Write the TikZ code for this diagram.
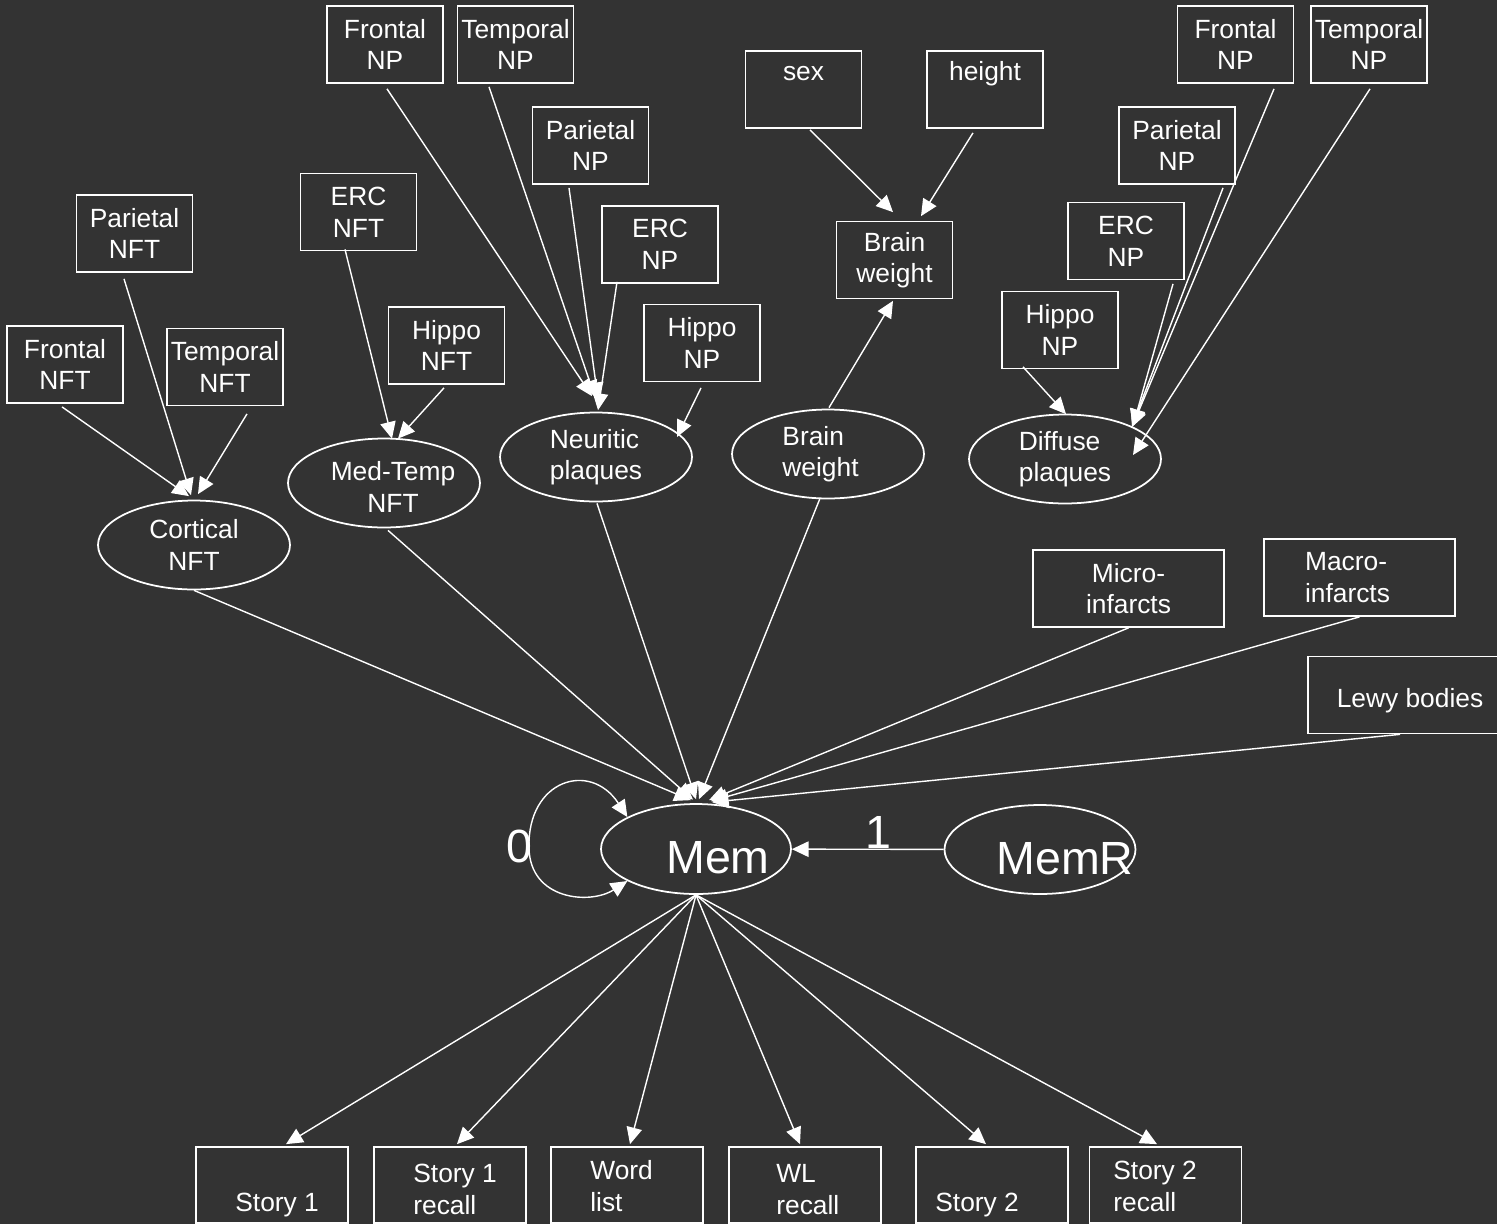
\documentclass[tikz,border=0pt]{standalone}
\usepackage{fontspec}
\setmainfont{Liberation Sans}
\usetikzlibrary{arrows.meta,shapes.geometric}
\definecolor{bg}{HTML}{333333}

\begin{document}
\begin{tikzpicture}[x=0.02cm,y=-0.02cm,
  every node/.style={text=white},
  lab/.style={font=\fontsize{15}{18}\selectfont, align=center},
  obs/.style={lab, draw=white, line width=1pt, rectangle,
    minimum width=2.32cm, minimum height=1.54cm, inner sep=0pt},
  wideobs/.style={obs, minimum width=3.82cm},
  ind/.style={draw=white, line width=1pt, rectangle,
    minimum width=3.04cm, minimum height=1.52cm, inner sep=0pt},
  btxt/.style={lab, anchor=north west, inner sep=0pt, align=left},
  lat/.style={lab, draw=white, line width=1pt, ellipse,
    minimum width=3.84cm, minimum height=1.78cm, inner sep=0pt},
  big/.style={font=\fontsize{26.5}{30}\selectfont},
  arr/.style={draw=white, line width=0.8pt, -{Triangle[length=9.5pt,width=8.8pt]}},
]
\fill[bg] (0,0) rectangle (1497,1224);
\useasboundingbox (0,0) rectangle (1497,1224);

% ---- neurofibrillary tangles ----
\node[obs] (pnft) at (134.5,233.5) {Parietal\\NFT};
\node[obs] (fnft) at (65,364.5) {Frontal\\NFT};
\node[obs] (tnft) at (225,367) {Temporal\\NFT};
\node[lat] (cnft) at (194,545) {Cortical\\NFT};

\node[obs] (enft) at (358.5,212) {ERC\\NFT};
\node[obs] (hnft) at (446.5,345.5) {Hippo\\NFT};
\node[lat, label={[lab,xshift=0.18cm,yshift=-0.08cm]center:Med-Temp\\NFT}] (mtnft) at (384,483) {};

% ---- neuritic plaques ----
\node[obs] (fnp) at (385,44.5) {Frontal\\NP};
\node[obs] (tnp) at (515.5,44.5) {Temporal\\NP};
\node[obs] (pnp) at (590.5,145.5) {Parietal\\NP};
\node[obs] (enp) at (660,244.5) {ERC\\NP};
\node[obs] (hnp) at (702,343) {Hippo\\NP};
\node[lat, align=left] (np) at (596,457) {Neuritic\\plaques};

% ---- brain weight ----
\node[obs] (sex) at (803.5,89.5) {\strut sex\\\strut};
\node[obs] (hgt) at (985,89.5) {\strut height\\\strut};
\node[obs] (bwbox) at (894.5,260) {Brain\\weight};
\node[lat, label={[lab,align=left,xshift=-0.15cm]center:Brain\\weight}] (bwell) at (828,454) {};

% ---- diffuse plaques ----
\node[obs] (rfnp) at (1235.5,44.5) {Frontal\\NP};
\node[obs] (rtnp) at (1369,44.5) {Temporal\\NP};
\node[obs] (rpnp) at (1177,145.5) {Parietal\\NP};
\node[obs] (renp) at (1126,241) {ERC\\NP};
\node[obs] (rhnp) at (1060,330) {Hippo\\NP};
\node[lat, align=left] (dp) at (1065,459) {Diffuse\\plaques};

% ---- vascular and Lewy pathology ----
\node[wideobs] (micro) at (1128.5,588.5) {Micro-\\infarcts};
\node[wideobs, label={[lab,align=left,xshift=-0.24cm]center:Macro-\\infarcts}] (macro) at (1359.5,577.5) {};
\node[wideobs, minimum width=4.08cm,
  label={[lab,yshift=-0.12cm]center:Lewy bodies}] (lewy) at (1410,695) {};

% ---- memory factor ----
\node[lat, minimum width=3.8cm, minimum height=1.8cm,
  label={[big,xshift=0.44cm,yshift=-0.18cm]center:Mem}] (mem) at (696,849) {};
\node[lat, minimum width=3.82cm, minimum height=1.78cm,
  label={[big,xshift=0.5cm,yshift=-0.18cm]center:MemR}] (memr) at (1040,849.5) {};
\node[big] (zero) at (519,846) {0};

% ---- memory indicators ----
\node[ind] (s1) at (272,1185) {};
\node[ind] (s2) at (450,1185) {};
\node[ind] (s3) at (627,1185) {};
\node[ind] (s4) at (805,1185) {};
\node[ind] (s5) at (992,1185) {};
\node[ind] (s6) at (1165.5,1185) {};
\node[btxt] (s1t) at (235,1189) {\strut Story 1};
\node[btxt] (s2t) at (413,1160) {\strut Story 1\\recall};
\node[btxt] (s3t) at (590,1157) {\strut Word\\list};
\node[btxt] (s4t) at (776,1160) {\strut WL\\recall};
\node[btxt] (s5t) at (935,1189) {\strut Story 2};
\node[btxt] (s6t) at (1113,1157) {\strut Story 2\\recall};

% ---- paths into Cortical NFT and Med-Temp NFT ----
\draw[arr] ([shift={(-3,3)}]fnft.south) -- ([shift={(-5,-3.5)}]cnft.north);
\draw[arr] ([shift={(-10.5,6)}]pnft.south) -- ([shift={(-3,-4.5)}]cnft.north);
\draw[arr] ([shift={(22,7.5)}]tnft.south) -- ([shift={(4,-5.5)}]cnft.north);
\draw[arr] ([shift={(-13.5,-2)}]enft.south) -- ([shift={(8,1)}]mtnft.north);
\draw[arr] ([shift={(-2.5,3)}]hnft.south) -- ([shift={(14,1)}]mtnft.north);

% ---- paths into Neuritic plaques ----
\draw[arr] ([shift={(2,5)}]fnp.south) -- ([shift={(-4,-15.5)}]np.north);
\draw[arr] ([shift={(-26.5,3)}]tnp.south) -- ([shift={(-1,-14.5)}]np.north);
\draw[arr] ([shift={(-21.5,3)}]pnp.south) -- ([shift={(2,-12.5)}]np.north);
\draw[arr] ([shift={(-43,-2)}]enp.south) -- ([shift={(2,-1.5)}]np.north);
\draw[arr] ([shift={(-1,5.5)}]hnp.south) -- ([shift={(81,-20)}]np.center);

% ---- brain weight paths ----
\draw[arr] ([shift={(6.5,1)}]sex.south) -- ([shift={(-1.5,-8.5)}]bwbox.north);
\draw[arr] ([shift={(-12,4)}]hgt.south) -- ([shift={(26.5,-4.5)}]bwbox.north);
\draw[arr] ([shift={(1,-1)}]bwell.north) -- ([shift={(-1.5,1.5)}]bwbox.south);

% ---- paths into Diffuse plaques ----
\draw[arr] ([shift={(38.5,5)}]rfnp.south) -- ([shift={(67,-32)}]dp.center);
\draw[arr] ([shift={(46,3)}]rpnp.south) -- ([shift={(67,-33)}]dp.center);
\draw[arr] ([shift={(47,3.5)}]renp.south) -- ([shift={(68,-33)}]dp.center);
\draw[arr] ([shift={(1,5)}]rtnp.south) -- ([shift={(68,-4)}]dp.center);
\draw[arr] ([shift={(-37,-2.5)}]rhnp.south) -- ([shift={(1,0.5)}]dp.north);

% ---- paths into Mem ----
\draw[arr] (cnft.south) -- ([shift={(-5,-3)}]mem.north);
\draw[arr] ([shift={(4,2)}]mtnft.south) -- ([shift={(-3,-3.5)}]mem.north);
\draw[arr] ([shift={(1,1)}]np.south) -- ([shift={(0,-4)}]mem.north);
\draw[arr] ([shift={(-8,-1)}]bwell.south) -- ([shift={(3,-4)}]mem.north);
\draw[arr] (micro.south) -- ([shift={(13,-3)}]mem.north);
\draw[arr] (macro.south) -- ([shift={(15,-2)}]mem.north);
\draw[arr] ([shift={(-10,0)}]lewy.south) -- ([shift={(16,-1)}]mem.north);

% ---- variance loop and fixed path from MemR ----
\draw[white, line width=0.8pt, {Triangle[length=9.5pt,width=8.8pt]}-{Triangle[length=9.5pt,width=8.8pt]}]
  (mem.205) .. controls (590,905) and (530,900) .. (529,848)
  .. controls (527,780) and (590,760) .. (mem.155);
\draw[arr] (memr) -- node[big, above, inner sep=0pt, pos=0.43] (one) {1} (mem);

% ---- loadings on the indicators ----
\draw[arr] (mem.south) -- ([shift={(14,-2)}]s1.north);
\draw[arr] (mem.south) -- ([shift={(7,-2)}]s2.north);
\draw[arr] (mem.south) -- ([shift={(3,-2)}]s3.north);
\draw[arr] (mem.south) -- ([shift={(-5,-2)}]s4.north);
\draw[arr] (mem.south) -- ([shift={(-6,-2)}]s5.north);
\draw[arr] (mem.south) -- ([shift={(-8.5,-2)}]s6.north);
\end{tikzpicture}
\end{document}
